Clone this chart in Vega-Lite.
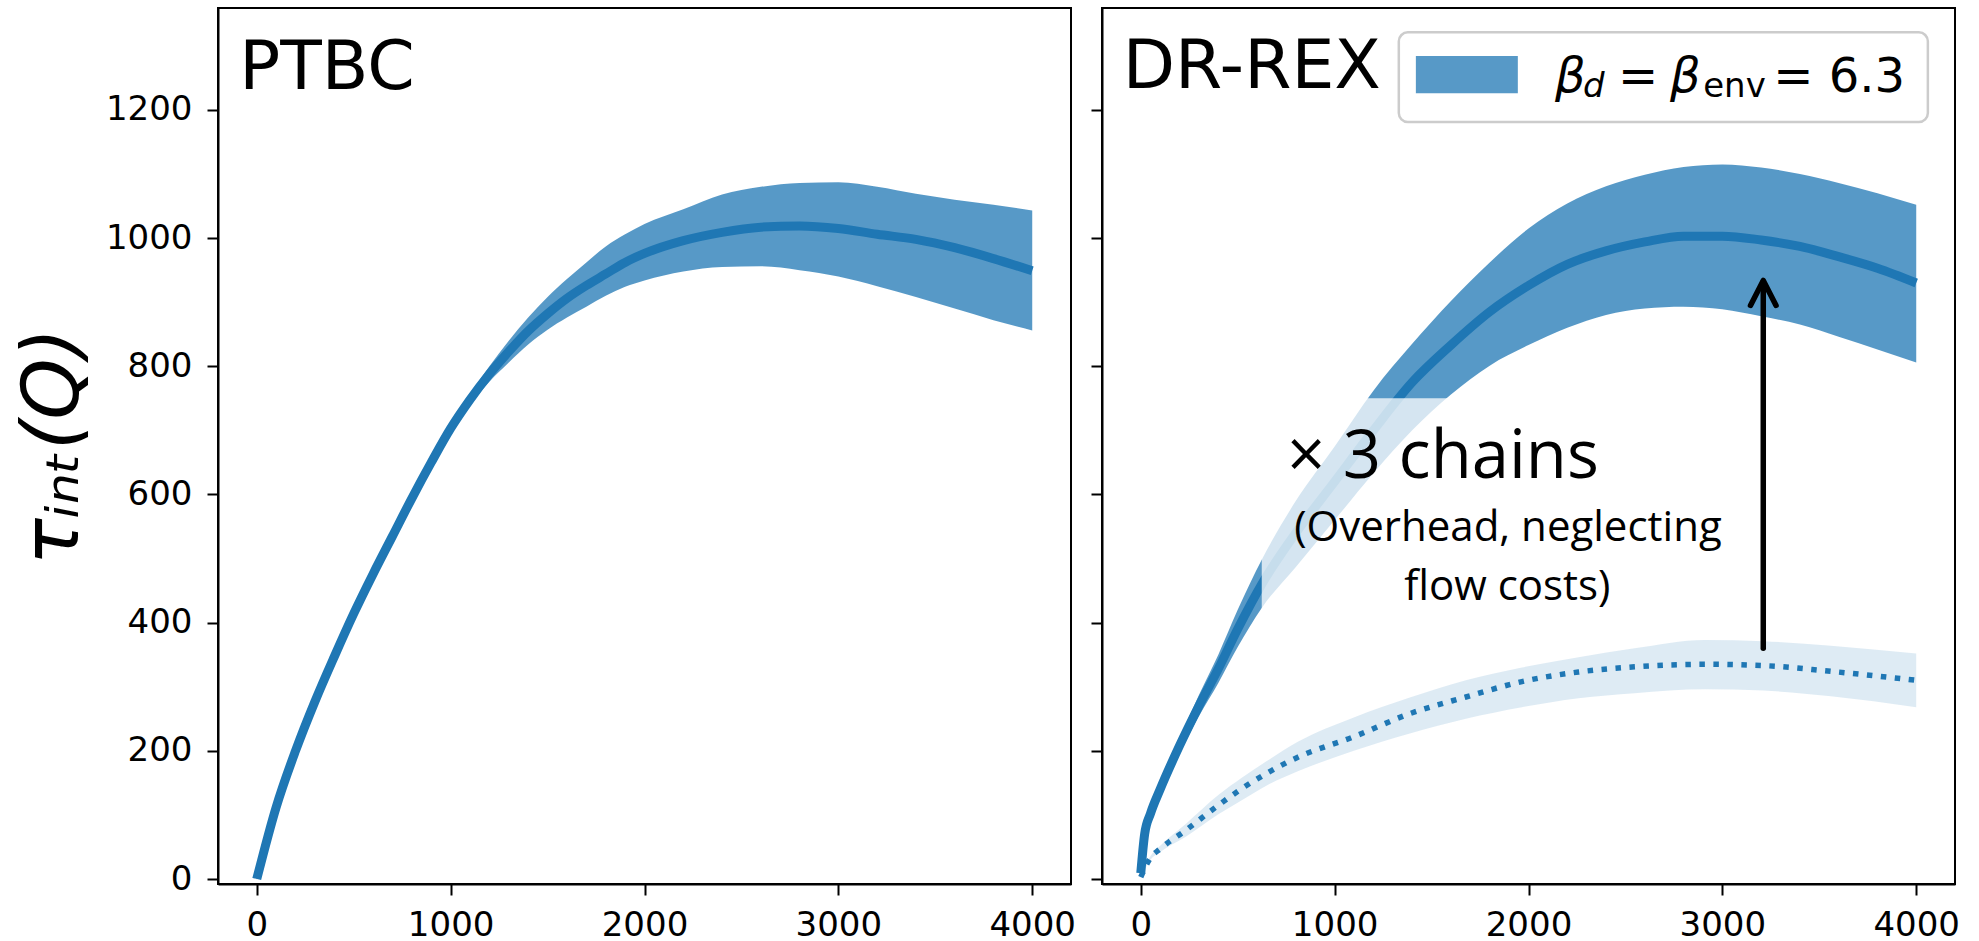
{
  "$schema": "https://vega.github.io/schema/vega-lite/v6.json",
  "padding": {"left": 14, "top": 7, "right": 0, "bottom": 0},
  "background": "white",
  "config": {
    "view": {"stroke": "black", "strokeWidth": 2},
    "axis": {"domainColor": "black", "domainWidth": 2, "tickColor": "black", "tickWidth": 2, "tickSize": 11, "labelFont": "DejaVu Sans", "labelFontSize": 34, "labelColor": "black", "grid": false, "titleColor": "black", "format": "d"},
    "axisX": {"labelPadding": 13},
    "axisY": {"labelPadding": 15},
    "concat": {"spacing": 12}
  },
  "datasets": {
    "ptbc": [
      {"x": 0, "mean": 0, "lo": -1, "hi": 2},
      {"x": 100, "mean": 112, "lo": 109, "hi": 115},
      {"x": 200, "mean": 200, "lo": 197, "hi": 203},
      {"x": 300, "mean": 277, "lo": 274, "hi": 280},
      {"x": 400, "mean": 347, "lo": 344, "hi": 350},
      {"x": 500, "mean": 414, "lo": 411, "hi": 417},
      {"x": 600, "mean": 476, "lo": 473, "hi": 479},
      {"x": 700, "mean": 535, "lo": 532, "hi": 538},
      {"x": 800, "mean": 594, "lo": 591, "hi": 597},
      {"x": 900, "mean": 650, "lo": 647, "hi": 653},
      {"x": 1000, "mean": 703, "lo": 699, "hi": 707},
      {"x": 1100, "mean": 748, "lo": 740, "hi": 756},
      {"x": 1200, "mean": 788, "lo": 776, "hi": 800},
      {"x": 1300, "mean": 823, "lo": 806, "hi": 840},
      {"x": 1400, "mean": 855, "lo": 834, "hi": 876},
      {"x": 1500, "mean": 882, "lo": 857, "hi": 908},
      {"x": 1600, "mean": 906, "lo": 876, "hi": 936},
      {"x": 1700, "mean": 926, "lo": 893, "hi": 962},
      {"x": 1800, "mean": 944, "lo": 910, "hi": 987},
      {"x": 1900, "mean": 962, "lo": 924, "hi": 1006},
      {"x": 2000, "mean": 976, "lo": 934, "hi": 1022},
      {"x": 2200, "mean": 996, "lo": 948, "hi": 1045},
      {"x": 2400, "mean": 1009, "lo": 955, "hi": 1068},
      {"x": 2600, "mean": 1017, "lo": 956, "hi": 1080},
      {"x": 2800, "mean": 1019, "lo": 950, "hi": 1086},
      {"x": 3000, "mean": 1015, "lo": 940, "hi": 1087},
      {"x": 3200, "mean": 1006, "lo": 925, "hi": 1080},
      {"x": 3400, "mean": 998, "lo": 908, "hi": 1069},
      {"x": 3600, "mean": 985, "lo": 890, "hi": 1060},
      {"x": 3800, "mean": 968, "lo": 872, "hi": 1052},
      {"x": 4000, "mean": 949, "lo": 856, "hi": 1043}
    ],
    "drex": [
      {"x": 0, "mean": 9, "lo": 6, "hi": 12},
      {"x": 20, "mean": 70, "lo": 66, "hi": 74},
      {"x": 50, "mean": 102, "lo": 96, "hi": 108},
      {"x": 100, "mean": 140, "lo": 132, "hi": 149},
      {"x": 200, "mean": 208, "lo": 196, "hi": 220},
      {"x": 300, "mean": 270, "lo": 254, "hi": 287},
      {"x": 400, "mean": 328, "lo": 306, "hi": 350},
      {"x": 500, "mean": 390, "lo": 362, "hi": 420},
      {"x": 624, "mean": 460, "lo": 423, "hi": 498},
      {"x": 800, "mean": 540, "lo": 487, "hi": 590},
      {"x": 1000, "mean": 620, "lo": 560, "hi": 675},
      {"x": 1200, "mean": 700, "lo": 633, "hi": 762},
      {"x": 1400, "mean": 775, "lo": 700, "hi": 835},
      {"x": 1600, "mean": 833, "lo": 756, "hi": 902},
      {"x": 1800, "mean": 885, "lo": 801, "hi": 962},
      {"x": 2000, "mean": 926, "lo": 833, "hi": 1015},
      {"x": 2200, "mean": 959, "lo": 860, "hi": 1054},
      {"x": 2400, "mean": 980, "lo": 880, "hi": 1081},
      {"x": 2600, "mean": 994, "lo": 890, "hi": 1099},
      {"x": 2800, "mean": 1003, "lo": 893, "hi": 1111},
      {"x": 3000, "mean": 1003, "lo": 889, "hi": 1115},
      {"x": 3200, "mean": 997, "lo": 878, "hi": 1110},
      {"x": 3400, "mean": 987, "lo": 865, "hi": 1100},
      {"x": 3600, "mean": 971, "lo": 846, "hi": 1086},
      {"x": 3800, "mean": 953, "lo": 826, "hi": 1070},
      {"x": 4000, "mean": 930, "lo": 806, "hi": 1052}
    ],
    "drex_single": [
      {"x": 0, "mean": 3, "lo": 2, "hi": 4},
      {"x": 50, "mean": 33, "lo": 30, "hi": 36},
      {"x": 100, "mean": 47, "lo": 42, "hi": 52},
      {"x": 232, "mean": 76, "lo": 66, "hi": 86},
      {"x": 400, "mean": 115, "lo": 101, "hi": 131},
      {"x": 521, "mean": 141, "lo": 123, "hi": 158},
      {"x": 650, "mean": 165, "lo": 146, "hi": 184},
      {"x": 810, "mean": 190, "lo": 168, "hi": 214},
      {"x": 1099, "mean": 222, "lo": 200, "hi": 252},
      {"x": 1388, "mean": 258, "lo": 227, "hi": 283},
      {"x": 1677, "mean": 284, "lo": 250, "hi": 310},
      {"x": 1966, "mean": 308, "lo": 268, "hi": 330},
      {"x": 2258, "mean": 323, "lo": 282, "hi": 346},
      {"x": 2547, "mean": 331, "lo": 290, "hi": 360},
      {"x": 2909, "mean": 335, "lo": 296, "hi": 373},
      {"x": 3212, "mean": 333, "lo": 294, "hi": 371},
      {"x": 3560, "mean": 324, "lo": 285, "hi": 364},
      {"x": 4000, "mean": 310, "lo": 268, "hi": 352}
    ],
    "panel_left": [{"x": -90, "y": 1232, "label": "PTBC"}],
    "panel_right": [{"x": -93, "y": 1234, "label": "DR-REX"}],
    "overlay": [{"x": 624, "x2": 1610, "y": 380, "y2": 750}],
    "arrow": [
      {"part": "shaft", "i": 0, "x": 3211, "y": 360},
      {"part": "shaft", "i": 1, "x": 3211, "y": 932},
      {"part": "head", "i": 0, "x": 3145, "y": 895},
      {"part": "head", "i": 1, "x": 3211, "y": 934},
      {"part": "head", "i": 2, "x": 3277, "y": 895}
    ],
    "note_big": [{"x": 1559, "y": 625, "label": "× 3 chains"}],
    "note_small": [
      {"x": 1894, "y": 528, "label": "(Overhead, neglecting"},
      {"x": 1891, "y": 435, "label": "flow costs)"}
    ],
    "legend_box": [{"x": 1331, "x2": 4060, "y": 1181, "y2": 1321}],
    "legend_patch": [{"x": 1419, "x2": 1945, "y": 1226, "y2": 1284}],
    "leg_big_italic": [{"x": 2137, "y": 1228, "label": "β"}, {"x": 2730, "y": 1228, "label": "β"}],
    "leg_small_italic": [{"x": 2281, "y": 1220, "label": "d"}],
    "leg_big": [{"x": 2462, "y": 1228, "label": "="}, {"x": 3262, "y": 1228, "label": "= 6.3"}],
    "leg_small": [{"x": 2901, "y": 1220, "label": "env"}]
  },
  "hconcat": [
    {
      "width": 853,
      "height": 876,
      "encoding": {
        "x": {"field": "x", "type": "quantitative", "scale": {"domain": [-200, 4200], "nice": false, "zero": false}, "axis": {"values": [0, 1000, 2000, 3000, 4000], "format": "d", "title": null}}
      },
      "layer": [
        {
          "data": {"name": "ptbc"},
          "mark": {"type": "area", "color": "#1f77b4", "opacity": 0.75, "interpolate": "monotone"},
          "encoding": {
            "y": {"field": "lo", "type": "quantitative", "scale": {"domain": [-7.8, 1359], "nice": false, "zero": false}, "axis": {"values": [0, 200, 400, 600, 800, 1000, 1200], "format": "d", "title": "τᵢₙₜ(Q)", "titleFont": "DejaVu Sans", "titleFontSize": 78, "titleFontStyle": "italic", "titleFontWeight": "normal", "titlePadding": 12}},
            "y2": {"field": "hi"}
          }
        },
        {
          "data": {"name": "ptbc"},
          "mark": {"type": "line", "color": "#1f77b4", "strokeWidth": 9, "interpolate": "monotone", "strokeCap": "butt"},
          "encoding": {
            "y": {"field": "mean", "type": "quantitative", "scale": {"domain": [-7.8, 1359], "nice": false, "zero": false}, "axis": {"values": [0, 200, 400, 600, 800, 1000, 1200], "format": "d", "title": "τᵢₙₜ(Q)", "titleFont": "DejaVu Sans", "titleFontSize": 78, "titleFontStyle": "italic", "titleFontWeight": "normal", "titlePadding": 12}}
          }
        },
        {
          "data": {"name": "panel_left"},
          "mark": {"type": "text", "font": "DejaVu Sans", "fontSize": 68, "align": "left", "baseline": "alphabetic", "color": "black"},
          "encoding": {
            "y": {"field": "y", "type": "quantitative", "scale": {"domain": [-7.8, 1359], "nice": false, "zero": false}, "axis": {"values": [0, 200, 400, 600, 800, 1000, 1200], "format": "d", "title": "τᵢₙₜ(Q)", "titleFont": "DejaVu Sans", "titleFontSize": 78, "titleFontStyle": "italic", "titleFontWeight": "normal", "titlePadding": 12}},
            "text": {"field": "label"}
          }
        }
      ]
    },
    {
      "width": 853,
      "height": 876,
      "encoding": {
        "x": {"field": "x", "type": "quantitative", "scale": {"domain": [-200, 4200], "nice": false, "zero": false}, "axis": {"values": [0, 1000, 2000, 3000, 4000], "format": "d", "title": null}}
      },
      "layer": [
        {
          "data": {"name": "drex"},
          "mark": {"type": "area", "color": "#1f77b4", "opacity": 0.75, "interpolate": "monotone"},
          "encoding": {
            "y": {"field": "lo", "type": "quantitative", "scale": {"domain": [-7.8, 1359], "nice": false, "zero": false}, "axis": {"values": [0, 200, 400, 600, 800, 1000, 1200], "labels": false, "title": null}},
            "y2": {"field": "hi"}
          }
        },
        {
          "data": {"name": "drex"},
          "mark": {"type": "line", "color": "#1f77b4", "strokeWidth": 9, "interpolate": "monotone", "strokeCap": "butt"},
          "encoding": {
            "y": {"field": "mean", "type": "quantitative", "scale": {"domain": [-7.8, 1359], "nice": false, "zero": false}, "axis": {"values": [0, 200, 400, 600, 800, 1000, 1200], "labels": false, "title": null}}
          }
        },
        {
          "data": {"name": "drex_single"},
          "mark": {"type": "area", "color": "#1f77b4", "opacity": 0.15, "interpolate": "monotone"},
          "encoding": {
            "y": {"field": "lo", "type": "quantitative", "scale": {"domain": [-7.8, 1359], "nice": false, "zero": false}, "axis": {"values": [0, 200, 400, 600, 800, 1000, 1200], "labels": false, "title": null}},
            "y2": {"field": "hi"}
          }
        },
        {
          "data": {"name": "drex_single"},
          "mark": {"type": "line", "color": "#1f77b4", "strokeWidth": 5.5, "interpolate": "monotone", "strokeDash": [5.5, 8.5], "strokeCap": "butt"},
          "encoding": {
            "y": {"field": "mean", "type": "quantitative", "scale": {"domain": [-7.8, 1359], "nice": false, "zero": false}, "axis": {"values": [0, 200, 400, 600, 800, 1000, 1200], "labels": false, "title": null}}
          }
        },
        {
          "data": {"name": "overlay"},
          "mark": {"type": "rect", "color": "white", "opacity": 0.75},
          "encoding": {
            "x2": {"field": "x2"},
            "y": {"field": "y", "type": "quantitative", "scale": {"domain": [-7.8, 1359], "nice": false, "zero": false}, "axis": {"values": [0, 200, 400, 600, 800, 1000, 1200], "labels": false, "title": null}},
            "y2": {"field": "y2"}
          }
        },
        {
          "data": {"name": "arrow"},
          "mark": {"type": "line", "color": "black", "strokeWidth": 5.5, "strokeCap": "round", "strokeJoin": "round"},
          "encoding": {
            "y": {"field": "y", "type": "quantitative", "scale": {"domain": [-7.8, 1359], "nice": false, "zero": false}, "axis": {"values": [0, 200, 400, 600, 800, 1000, 1200], "labels": false, "title": null}},
            "detail": {"field": "part"},
            "order": {"field": "i"}
          }
        },
        {
          "data": {"name": "note_big"},
          "mark": {"type": "text", "font": "Open Sans", "fontSize": 67, "align": "center", "baseline": "alphabetic", "color": "black"},
          "encoding": {
            "y": {"field": "y", "type": "quantitative", "scale": {"domain": [-7.8, 1359], "nice": false, "zero": false}, "axis": {"values": [0, 200, 400, 600, 800, 1000, 1200], "labels": false, "title": null}},
            "text": {"field": "label"}
          }
        },
        {
          "data": {"name": "note_small"},
          "mark": {"type": "text", "font": "Open Sans", "fontSize": 42, "align": "center", "baseline": "alphabetic", "color": "black"},
          "encoding": {
            "y": {"field": "y", "type": "quantitative", "scale": {"domain": [-7.8, 1359], "nice": false, "zero": false}, "axis": {"values": [0, 200, 400, 600, 800, 1000, 1200], "labels": false, "title": null}},
            "text": {"field": "label"}
          }
        },
        {
          "data": {"name": "legend_box"},
          "mark": {"type": "rect", "fill": "white", "fillOpacity": 0.8, "stroke": "#cccccc", "strokeWidth": 2.5, "cornerRadius": 9},
          "encoding": {
            "x2": {"field": "x2"},
            "y": {"field": "y", "type": "quantitative", "scale": {"domain": [-7.8, 1359], "nice": false, "zero": false}, "axis": {"values": [0, 200, 400, 600, 800, 1000, 1200], "labels": false, "title": null}},
            "y2": {"field": "y2"}
          }
        },
        {
          "data": {"name": "legend_patch"},
          "mark": {"type": "rect", "color": "#1f77b4", "opacity": 0.75},
          "encoding": {
            "x2": {"field": "x2"},
            "y": {"field": "y", "type": "quantitative", "scale": {"domain": [-7.8, 1359], "nice": false, "zero": false}, "axis": {"values": [0, 200, 400, 600, 800, 1000, 1200], "labels": false, "title": null}},
            "y2": {"field": "y2"}
          }
        },
        {
          "data": {"name": "leg_big_italic"},
          "mark": {"type": "text", "font": "DejaVu Sans", "fontSize": 48, "fontStyle": "italic", "align": "left", "baseline": "alphabetic", "color": "black"},
          "encoding": {
            "y": {"field": "y", "type": "quantitative", "scale": {"domain": [-7.8, 1359], "nice": false, "zero": false}, "axis": {"values": [0, 200, 400, 600, 800, 1000, 1200], "labels": false, "title": null}},
            "text": {"field": "label"}
          }
        },
        {
          "data": {"name": "leg_small_italic"},
          "mark": {"type": "text", "font": "DejaVu Sans", "fontSize": 34, "fontStyle": "italic", "align": "left", "baseline": "alphabetic", "color": "black"},
          "encoding": {
            "y": {"field": "y", "type": "quantitative", "scale": {"domain": [-7.8, 1359], "nice": false, "zero": false}, "axis": {"values": [0, 200, 400, 600, 800, 1000, 1200], "labels": false, "title": null}},
            "text": {"field": "label"}
          }
        },
        {
          "data": {"name": "leg_big"},
          "mark": {"type": "text", "font": "DejaVu Sans", "fontSize": 48, "align": "left", "baseline": "alphabetic", "color": "black"},
          "encoding": {
            "y": {"field": "y", "type": "quantitative", "scale": {"domain": [-7.8, 1359], "nice": false, "zero": false}, "axis": {"values": [0, 200, 400, 600, 800, 1000, 1200], "labels": false, "title": null}},
            "text": {"field": "label"}
          }
        },
        {
          "data": {"name": "leg_small"},
          "mark": {"type": "text", "font": "DejaVu Sans", "fontSize": 34, "align": "left", "baseline": "alphabetic", "color": "black"},
          "encoding": {
            "y": {"field": "y", "type": "quantitative", "scale": {"domain": [-7.8, 1359], "nice": false, "zero": false}, "axis": {"values": [0, 200, 400, 600, 800, 1000, 1200], "labels": false, "title": null}},
            "text": {"field": "label"}
          }
        },
        {
          "data": {"name": "panel_right"},
          "mark": {"type": "text", "font": "DejaVu Sans", "fontSize": 68, "align": "left", "baseline": "alphabetic", "color": "black"},
          "encoding": {
            "y": {"field": "y", "type": "quantitative", "scale": {"domain": [-7.8, 1359], "nice": false, "zero": false}, "axis": {"values": [0, 200, 400, 600, 800, 1000, 1200], "labels": false, "title": null}},
            "text": {"field": "label"}
          }
        }
      ]
    }
  ]
}
